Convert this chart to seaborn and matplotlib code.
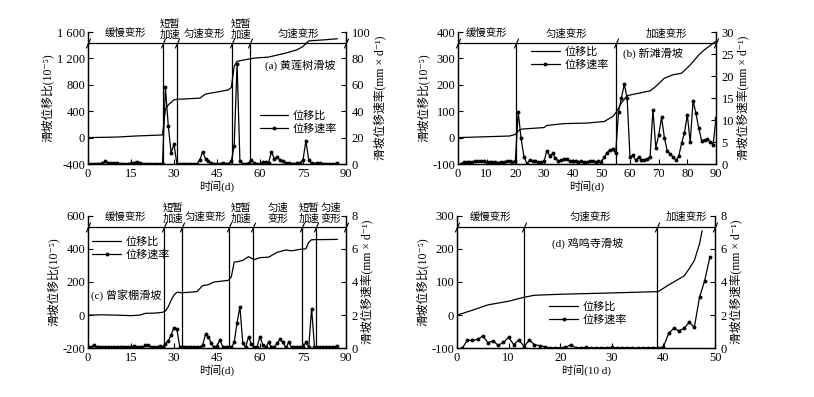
import numpy as np
import pandas as pd
import matplotlib
matplotlib.use('Agg')
import matplotlib.pyplot as plt
import seaborn as sns

sns.set_theme(style='ticks', rc={'xtick.direction': 'in', 'ytick.direction': 'in',
                                 'axes.edgecolor': 'black', 'text.color': 'black',
                                 'xtick.color': 'black', 'ytick.color': 'black',
                                 'axes.labelcolor': 'black', 'axes.linewidth': 0.9})
plt.rcParams['font.family'] = ['Liberation Serif', 'Noto Sans CJK SC', 'DejaVu Sans']
plt.rcParams['axes.unicode_minus'] = False

# ---- (a) 黄莲树滑坡 ----
T_A = [0, 10, 17, 25, 26, 27, 28, 30, 31, 39, 41, 46, 49, 50, 51, 52, 53, 58, 63, 69, 73, 75,
       77, 83, 87]
DISP_A = [0, 8, 25, 38, 40, 430, 496, 572, 580, 598, 660, 698, 724, 760, 1080, 1155, 1165,
          1205, 1220, 1281, 1331, 1381, 1465, 1483, 1498]
DAY_A = list(range(0, 88))
RATE_A = [0.3, 0.3, 0.3, 0.3, 0.3, 0.5, 2.0, 0.8, 0.5, 0.8,
          0.5, 0.3, 0.3, 0.3, 0.3, 0.5, 1.0, 1.8, 0.8, 0.3,
          0.3, 0.3, 0.3, 0.3, 0.3, 0.3, 0.3, 58, 29, 8.5,
          15, 0.3, 0.3, 0.3, 0.3, 0.3, 0.3, 0.3, 0.3, 3.0,
          9.4, 4.0, 2.0, 0.5, 0.3, 0.3, 0.3, 0.5, 0.3, 0.3,
          2.0, 14, 76, 2.0, 0.3, 0.3, 0.5, 3.0, 0.5, 0.3,
          0.3, 1.5, 1.5, 1.0, 9.4, 4.0, 5.0, 3.0, 2.0, 1.0,
          0.5, 0.3, 0.3, 0.5, 1.0, 3.0, 17.5, 3.0, 0.5, 0.3,
          1.0, 0.5, 0.3, 0.3, 0.3, 0.3, 0.3, 0.5]
BOUNDS_A = [26.2, 30.9, 50.2, 56.5]
PHASES_A = ['缓慢变形', '短暂\n加速', '匀速变形', '短暂\n加速', '匀速变形']

# ---- (b) 新滩滑坡 ----
T_B = [0, 18, 20, 21, 22, 30, 31, 37, 45, 51, 54, 55, 57, 59, 63, 67, 69, 72, 75, 78, 81, 84,
       86, 90]
DISP_B = [0, 6, 12, 25, 32, 38, 46, 53, 55, 61, 80, 93, 131, 159, 168, 177, 194, 225, 238,
          244, 275, 313, 333, 365]
DAY_B = list(range(1, 91))
RATE_B = [0.1, 0.4, 0.5, 0.5, 0.5, 0.6, 0.6, 0.7, 0.6, 0.5,
          0.4, 0.4, 0.5, 0.3, 0.4, 0.4, 0.6, 0.7, 0.5, 0.6,
          11.8, 5.8, 1.7, 0.1, 0.8, 0.6, 0.6, 0.5, 0.5, 0.6,
          3.0, 1.9, 2.4, 1.3, 0.7, 0.9, 1.1, 1.2, 0.6, 0.6,
          0.6, 0.5, 0.6, 0.5, 0.4, 0.7, 0.6, 0.5, 0.6, 0.5,
          1.5, 2.6, 3.2, 3.4, 2.4, 11.9, 15.0, 18.1, 15.0, 1.5,
          2.0, 0.8, 1.5, 1.0, 1.0, 1.1, 1.7, 12.3, 3.7, 6.5,
          10.6, 6.0, 2.9, 2.3, 1.6, 0.8, 1.8, 4.7, 7.1, 11.2,
          4.9, 14.4, 11.5, 8.1, 5.3, 5.5, 5.6, 5.0, 4.4, 10.4]
BOUNDS_B = [20.1, 55.2]
PHASES_B = ['缓慢变形', '匀速变形', '加速变形']

# ---- (c) 曾家棚滑坡 ----
T_C = [0, 5, 10, 15, 18, 20, 23, 26, 27, 28, 29, 30, 31, 33, 38, 40, 42, 44, 49, 50, 51, 52,
       54, 56, 58, 60, 63, 66, 69, 71, 74, 76, 77, 78, 87]
DISP_C = [0, 2, 0, -3, 0, 11, 12, 17, 25, 51, 90, 122, 138, 135, 142, 178, 184, 200, 210,
          232, 320, 322, 330, 353, 335, 347, 350, 379, 393, 388, 397, 400, 440, 455, 457]
DAY_C = list(range(0, 88))
RATE_C = [0.05, 0.05, 0.18, 0.05, 0.1, 0.05, 0.05, 0.1, 0.05, 0.1,
          0.1, 0.05, 0.05, 0.1, 0.05, 0.05, 0.15, 0.05, 0.05, 0.05,
          0.2, 0.2, 0.05, 0.1, 0.05, 0.15, 0.1, 0.25, 0.45, 0.8,
          1.25, 1.15, 0.1, 0.05, 0.05, 0.05, 0.1, 0.05, 0.1, 0.05,
          0.2, 0.85, 0.7, 0.3, 0.05, 0.15, 0.5, 0.1, 0.05, 0.1,
          0.05, 0.35, 1.55, 2.5, 0.3, 0.05, 0.7, 0.25, 0.05, 0.1,
          0.7, 0.2, 0.05, 0.35, 0.05, 0.1, 0.3, 0.55, 0.35, 0.05,
          0.35, 0.05, 0.1, 0.05, 0.1, 0.05, 0.35, 0.05, 2.4, 0.1,
          0.05, 0.05, 0.05, 0.05, 0.05, 0.05, 0.05, 0.15]
BOUNDS_C = [26.4, 32.7, 49.3, 57.7, 74.8, 79.5]
PHASES_C = ['缓慢变形', '短暂\n加速', '匀速变形', '短暂\n加速', '匀速\n变形', '短暂\n加速', '匀速\n变形']

# ---- (d) 鸡鸣寺滑坡 ----
T_D = [0, 3, 6, 10, 13, 15, 20, 25, 30, 39, 41, 44, 45, 46, 47, 47.5]
DISP_D = [0, 15, 31, 42, 54, 60, 63, 65, 67, 71, 91, 118, 140, 165, 215, 255]
DAY_D = list(range(1, 50))
RATE_D = [0.0, 0.48, 0.48, 0.54, 0.74, 0.34, 0.44, 0.18, 0.36, 0.66,
          0.22, 0.52, 0.1, 0.5, 0.22, 0.16, 0.1, 0.02, 0.04, 0.04,
          0.05, 0.2, 0.04, 0.04, 0.05, 0.02, 0.04, 0.04, 0.04, 0.05,
          0.02, 0.04, 0.04, 0.04, 0.02, 0.04, 0.04, 0.04, 0.04, 0.06,
          0.9, 1.2, 1.06, 1.2, 1.57, 1.27, 3.08, 4.08, 5.49]
BOUNDS_D = [13.05, 38.8]
PHASES_D = ['缓慢变形', '匀速变形', '加速变形']

CJK = 7.5
NUM = 9
BAND = 0.915


def fmt(v):
    s = f"{abs(int(v)):,}".replace(',', ' ')
    return ('-' if v < 0 else '') + s


def panel(rect, t, disp, day, rate, bounds, phases, ylim, ystep, rlim, rstep,
          xlim, xstep, xlabel, title, title_pos, leg_pos):
    ax = fig.add_axes(rect)
    ax2 = ax.twinx()
    df1 = pd.DataFrame({'t': t, 'v': disp})
    df2 = pd.DataFrame({'t': day, 'v': rate})
    sns.lineplot(data=df1, x='t', y='v', ax=ax, color='black', lw=0.9, legend=False)
    sns.lineplot(data=df2, x='t', y='v', ax=ax2, color='black', lw=0.9, marker='o',
                 markersize=2.8, markeredgewidth=0, legend=False)
    ax.set_xlim(*xlim)
    ax.set_ylim(*ylim)
    ax2.set_ylim(*rlim)
    ax.set_xticks(np.arange(xlim[0], xlim[1] + 1, xstep))
    yt = np.arange(ylim[0], ylim[1] + 1, ystep)
    ax.set_yticks(yt)
    ax.set_yticklabels([fmt(v) for v in yt])
    ax2.set_yticks(np.arange(rlim[0], rlim[1] + 0.01, rstep))
    for a in (ax, ax2):
        a.spines['top'].set_visible(False)
        a.tick_params(labelsize=NUM, length=3.5, width=0.8, pad=2)
    ax.tick_params(axis='x', pad=3)
    ax2.tick_params(axis='y', pad=4)
    ax.set_xlabel(xlabel, fontsize=CJK + 0.5, labelpad=0)
    ax.set_ylabel('滑坡位移比(10⁻⁵)', fontsize=CJK + 1, labelpad=2)
    ax2.set_ylabel('滑坡位移速率(mm × d⁻¹)', fontsize=CJK + 1, labelpad=2)

    band = ylim[0] + BAND * (ylim[1] - ylim[0])
    ax.axhline(band, color='black', lw=0.9)
    ax.vlines(bounds, ylim[0], band, color='black', lw=0.9)
    xs = [xlim[0]] + list(bounds) + [xlim[1]]
    ax.plot(xs, [band] * len(xs), ls='none', marker=[(-0.45, -1), (0.45, 1)],
            markersize=7, mew=0.8, color='black', clip_on=False, zorder=5)
    edges = [xlim[0]] + list(bounds) + [xlim[1]]
    tr = ax.get_xaxis_transform()
    for i, lab in enumerate(phases):
        xc = (edges[i] + edges[i + 1]) / 2
        yy = 1.018 if '\n' in lab else 0.99
        ax.text(xc, yy, lab, transform=tr, ha='center', va='center', fontsize=CJK,
                linespacing=1.05)
    ax.text(title_pos[0], title_pos[1], title, transform=ax.transAxes, fontsize=CJK + 0.5,
            va='center', ha='left')
    handles = [ax.lines[0], ax2.lines[0]]
    ax.legend(handles, ['位移比', '位移速率'], loc='upper left', bbox_to_anchor=leg_pos,
              frameon=False, fontsize=CJK + 0.5, handlelength=2.6, handletextpad=0.4,
              borderpad=0, borderaxespad=0, labelspacing=0.25)
    return ax


fig = plt.figure(figsize=(8.14, 3.97), dpi=100)
W = 258 / 814
H1 = 132 / 397
panel([88 / 814, 1 - 164 / 397, W, H1], T_A, DISP_A, DAY_A, RATE_A, BOUNDS_A, PHASES_A,
      (-400, 1600), 400, (0, 100), 20, (0, 90), 15, '时间(d)', '(a) 黄莲树滑坡',
      (0.685, 0.75), (0.665, 0.405))
panel([458 / 814, 1 - 164 / 397, W, H1], T_B, DISP_B, DAY_B, RATE_B, BOUNDS_B, PHASES_B,
      (-100, 400), 100, (0, 30), 5, (0, 90), 10, '时间(d)', '(b) 新滩滑坡',
      (0.64, 0.84), (0.283, 0.89))
panel([88 / 814, 1 - 348.3 / 397, W, 132.6 / 397], T_C, DISP_C, DAY_C, RATE_C, BOUNDS_C,
      PHASES_C, (-200, 600), 200, (0, 8), 2, (0, 90), 15, '时间(d)', '(c) 曾家棚滑坡',
      (0.01, 0.40), (0.016, 0.845))
panel([457 / 814, 1 - 348.3 / 397, W, 132.6 / 397], T_D, DISP_D, DAY_D, RATE_D, BOUNDS_D,
      PHASES_D, (-100, 300), 100, (0, 8), 2, (0, 50), 10, '时间(10 d)', '(d) 鸡鸣寺滑坡',
      (0.37, 0.79), (0.357, 0.355))

fig.savefig('out.png', dpi=100)
